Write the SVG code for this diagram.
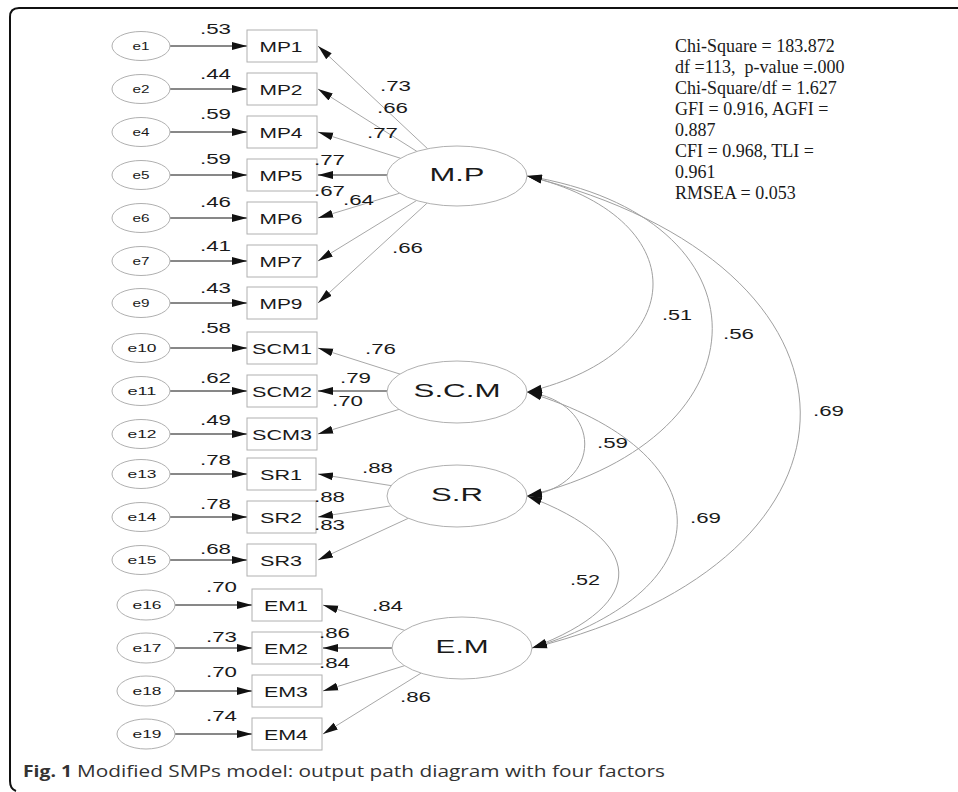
<svg xmlns="http://www.w3.org/2000/svg" width="958" height="792" viewBox="0 0 958 792">
<style>
.bg{fill:#fff}
.frame{fill:none;stroke:#111;stroke-width:2}
.err{fill:#fff;stroke:#b0b0b0;stroke-width:1}
.box{fill:#fff;stroke:#b0b0b0;stroke-width:1}
.lat{fill:#fff;stroke:#b0b0b0;stroke-width:1}
.et{font-family:"Liberation Sans",Arial,sans-serif;font-size:11px;fill:#1a1a1a;text-anchor:middle}
.bt{font-family:"Liberation Sans",Arial,sans-serif;font-size:14px;fill:#1a1a1a;text-anchor:middle}
.lt{font-family:"Liberation Sans",Arial,sans-serif;font-size:19px;fill:#1a1a1a;text-anchor:middle}
.v{font-family:"Liberation Sans",Arial,sans-serif;font-size:14px;fill:#1a1a1a}
.st{font-family:"Liberation Serif","Times New Roman",serif;font-size:18px;fill:#1a1a1a}
.cap{font-family:"Open Sans","Noto Sans",sans-serif;font-size:16px;fill:#333}
.ea{fill:none;stroke:#111;stroke-width:1;marker-end:url(#ah)}
.ld{fill:none;stroke:#a8a8a8;stroke-width:1;marker-end:url(#ah)}
.ldh{fill:none;stroke:#222;stroke-width:1;marker-end:url(#ah)}
.cov{fill:none;stroke:#a0a0a0;stroke-width:1;marker-start:url(#ah);marker-end:url(#ah)}
</style>
<defs>
<marker id="ah" markerUnits="userSpaceOnUse" markerWidth="16" markerHeight="10" viewBox="0 0 16 10" refX="15" refY="5" orient="auto-start-reverse">
<path d="M0,1 L15,5 L0,9 Z" fill="#111"/>
</marker>
</defs>
<rect class="bg" x="0" y="0" width="958" height="792"/>
<path class="frame" d="M958,8 H19 Q10,8 10,17 V781 Q10,789 16,791"/>

<g id="connectors">
<line class="ea" x1="170" y1="46" x2="247" y2="46"/>
<line class="ea" x1="170" y1="89" x2="247" y2="89"/>
<line class="ea" x1="170" y1="132" x2="247" y2="132"/>
<line class="ea" x1="170" y1="175" x2="247" y2="175"/>
<line class="ea" x1="170" y1="218" x2="247" y2="218"/>
<line class="ea" x1="170" y1="261" x2="247" y2="261"/>
<line class="ea" x1="170" y1="303" x2="247" y2="303"/>
<line class="ea" x1="170" y1="348" x2="247" y2="348"/>
<line class="ea" x1="170" y1="391" x2="247" y2="391"/>
<line class="ea" x1="170" y1="434" x2="247" y2="434"/>
<line class="ea" x1="170" y1="474" x2="247" y2="474"/>
<line class="ea" x1="170" y1="517" x2="247" y2="517"/>
<line class="ea" x1="170" y1="560" x2="247" y2="560"/>
<line class="ea" x1="175" y1="605" x2="252" y2="605"/>
<line class="ea" x1="175" y1="648" x2="252" y2="648"/>
<line class="ea" x1="175" y1="691" x2="252" y2="691"/>
<line class="ea" x1="175" y1="734" x2="252" y2="734"/>
<line class="ld" x1="427.7" y1="148.8" x2="318" y2="46"/>
<line class="ld" x1="416.9" y1="151.4" x2="318" y2="89"/>
<line class="ld" x1="400.6" y1="158.3" x2="318" y2="132"/>
<line class="ldh" x1="387" y1="175" x2="318" y2="175"/>
<line class="ld" x1="399.7" y1="193.2" x2="318" y2="218"/>
<line class="ld" x1="416.6" y1="200.5" x2="318" y2="261"/>
<line class="ld" x1="427.1" y1="203.1" x2="318" y2="303"/>
<line class="ld" x1="400.6" y1="374.3" x2="318" y2="348"/>
<line class="ldh" x1="387" y1="391" x2="318" y2="391"/>
<line class="ld" x1="399.7" y1="409.2" x2="318" y2="434"/>
<line class="ld" x1="391" y1="485.6" x2="318" y2="474"/>
<line class="ld" x1="390.7" y1="505.9" x2="318" y2="517"/>
<line class="ld" x1="408.3" y1="518.3" x2="318" y2="560"/>
<line class="ld" x1="404.5" y1="630.3" x2="323" y2="605"/>
<line class="ldh" x1="392" y1="648" x2="323" y2="648"/>
<line class="ld" x1="404.5" y1="665.7" x2="323" y2="691"/>
<line class="ld" x1="421.1" y1="673.1" x2="323" y2="734"/>
<path class="cov" d="M527,176 C695,216 695,352 527,392"/>
<path class="cov" d="M527,176 C774,216 774,436 527,496"/>
<path class="cov" d="M527,176 C888,266 893,558 532,648"/>
<path class="cov" d="M527,392 C604,402 604,486 527,496"/>
<path class="cov" d="M527,392 C724,452 729,588 532,648"/>
<path class="cov" d="M527,496 C646,541 651,603 532,648"/>
</g>

<g id="e1"><ellipse class="err" cx="141" cy="46" rx="29" ry="14.5"/><text class="et" x="141" y="50" textLength="17" lengthAdjust="spacingAndGlyphs">e1</text></g>
<g id="e2"><ellipse class="err" cx="141" cy="89" rx="29" ry="14.5"/><text class="et" x="141" y="93" textLength="17" lengthAdjust="spacingAndGlyphs">e2</text></g>
<g id="e4"><ellipse class="err" cx="141" cy="132" rx="29" ry="14.5"/><text class="et" x="141" y="136" textLength="17" lengthAdjust="spacingAndGlyphs">e4</text></g>
<g id="e5"><ellipse class="err" cx="141" cy="175" rx="29" ry="14.5"/><text class="et" x="141" y="179" textLength="17" lengthAdjust="spacingAndGlyphs">e5</text></g>
<g id="e6"><ellipse class="err" cx="141" cy="218" rx="29" ry="14.5"/><text class="et" x="141" y="222" textLength="17" lengthAdjust="spacingAndGlyphs">e6</text></g>
<g id="e7"><ellipse class="err" cx="141" cy="261" rx="29" ry="14.5"/><text class="et" x="141" y="265" textLength="17" lengthAdjust="spacingAndGlyphs">e7</text></g>
<g id="e9"><ellipse class="err" cx="141" cy="303" rx="29" ry="14.5"/><text class="et" x="141" y="307" textLength="17" lengthAdjust="spacingAndGlyphs">e9</text></g>
<g id="e10"><ellipse class="err" cx="141" cy="348" rx="29" ry="14.5"/><text class="et" x="142" y="352" textLength="29" lengthAdjust="spacingAndGlyphs">e10</text></g>
<g id="e11"><ellipse class="err" cx="141" cy="391" rx="29" ry="14.5"/><text class="et" x="142" y="395" textLength="29" lengthAdjust="spacingAndGlyphs">e11</text></g>
<g id="e12"><ellipse class="err" cx="141" cy="434" rx="29" ry="14.5"/><text class="et" x="142" y="438" textLength="29" lengthAdjust="spacingAndGlyphs">e12</text></g>
<g id="e13"><ellipse class="err" cx="141" cy="474" rx="29" ry="14.5"/><text class="et" x="142" y="478" textLength="29" lengthAdjust="spacingAndGlyphs">e13</text></g>
<g id="e14"><ellipse class="err" cx="141" cy="517" rx="29" ry="14.5"/><text class="et" x="142" y="521" textLength="29" lengthAdjust="spacingAndGlyphs">e14</text></g>
<g id="e15"><ellipse class="err" cx="141" cy="560" rx="29" ry="14.5"/><text class="et" x="142" y="564" textLength="29" lengthAdjust="spacingAndGlyphs">e15</text></g>
<g id="e16"><ellipse class="err" cx="146" cy="605" rx="29" ry="15"/><text class="et" x="147" y="609" textLength="29" lengthAdjust="spacingAndGlyphs">e16</text></g>
<g id="e17"><ellipse class="err" cx="146" cy="648" rx="29" ry="15"/><text class="et" x="147" y="652" textLength="29" lengthAdjust="spacingAndGlyphs">e17</text></g>
<g id="e18"><ellipse class="err" cx="146" cy="691" rx="29" ry="15"/><text class="et" x="147" y="695" textLength="29" lengthAdjust="spacingAndGlyphs">e18</text></g>
<g id="e19"><ellipse class="err" cx="146" cy="734" rx="29" ry="15"/><text class="et" x="147" y="738" textLength="29" lengthAdjust="spacingAndGlyphs">e19</text></g>

<g id="MP1"><rect class="box" x="247" y="30" width="70" height="32"/><text class="bt" x="281" y="52" textLength="43" lengthAdjust="spacingAndGlyphs">MP1</text></g>
<g id="MP2"><rect class="box" x="247" y="73" width="70" height="32"/><text class="bt" x="281" y="95" textLength="43" lengthAdjust="spacingAndGlyphs">MP2</text></g>
<g id="MP4"><rect class="box" x="247" y="116" width="70" height="32"/><text class="bt" x="281" y="138" textLength="43" lengthAdjust="spacingAndGlyphs">MP4</text></g>
<g id="MP5"><rect class="box" x="247" y="159" width="70" height="32"/><text class="bt" x="281" y="181" textLength="43" lengthAdjust="spacingAndGlyphs">MP5</text></g>
<g id="MP6"><rect class="box" x="247" y="202" width="70" height="32"/><text class="bt" x="281" y="224" textLength="43" lengthAdjust="spacingAndGlyphs">MP6</text></g>
<g id="MP7"><rect class="box" x="247" y="245" width="70" height="32"/><text class="bt" x="281" y="267" textLength="43" lengthAdjust="spacingAndGlyphs">MP7</text></g>
<g id="MP9"><rect class="box" x="247" y="287" width="70" height="32"/><text class="bt" x="281" y="309" textLength="43" lengthAdjust="spacingAndGlyphs">MP9</text></g>
<g id="SCM1"><rect class="box" x="247" y="332" width="70" height="32"/><text class="bt" x="282" y="354" textLength="60" lengthAdjust="spacingAndGlyphs">SCM1</text></g>
<g id="SCM2"><rect class="box" x="247" y="375" width="70" height="32"/><text class="bt" x="282" y="397" textLength="60" lengthAdjust="spacingAndGlyphs">SCM2</text></g>
<g id="SCM3"><rect class="box" x="247" y="418" width="70" height="32"/><text class="bt" x="282" y="440" textLength="60" lengthAdjust="spacingAndGlyphs">SCM3</text></g>
<g id="SR1"><rect class="box" x="247" y="458" width="69" height="32"/><text class="bt" x="281" y="480" textLength="42" lengthAdjust="spacingAndGlyphs">SR1</text></g>
<g id="SR2"><rect class="box" x="247" y="501" width="69" height="32"/><text class="bt" x="281" y="523" textLength="42" lengthAdjust="spacingAndGlyphs">SR2</text></g>
<g id="SR3"><rect class="box" x="247" y="544" width="69" height="32"/><text class="bt" x="281" y="566" textLength="42" lengthAdjust="spacingAndGlyphs">SR3</text></g>
<g id="EM1"><rect class="box" x="252" y="589" width="70" height="32"/><text class="bt" x="286" y="611" textLength="44" lengthAdjust="spacingAndGlyphs">EM1</text></g>
<g id="EM2"><rect class="box" x="252" y="632" width="70" height="32"/><text class="bt" x="286" y="654" textLength="44" lengthAdjust="spacingAndGlyphs">EM2</text></g>
<g id="EM3"><rect class="box" x="252" y="675" width="70" height="32"/><text class="bt" x="286" y="697" textLength="44" lengthAdjust="spacingAndGlyphs">EM3</text></g>
<g id="EM4"><rect class="box" x="252" y="718" width="70" height="32"/><text class="bt" x="286" y="740" textLength="44" lengthAdjust="spacingAndGlyphs">EM4</text></g>

<g id="MP"><ellipse class="lat" cx="457" cy="176" rx="70" ry="30"/><text class="lt" x="457" y="181" textLength="55" lengthAdjust="spacingAndGlyphs">M.P</text></g>
<g id="SCM"><ellipse class="lat" cx="457" cy="392" rx="70" ry="31"/><text class="lt" x="457" y="397" textLength="87" lengthAdjust="spacingAndGlyphs">S.C.M</text></g>
<g id="SR"><ellipse class="lat" cx="457" cy="496" rx="70" ry="31"/><text class="lt" x="457" y="501" textLength="52" lengthAdjust="spacingAndGlyphs">S.R</text></g>
<g id="EM"><ellipse class="lat" cx="462" cy="648" rx="70" ry="31"/><text class="lt" x="462" y="653" textLength="53" lengthAdjust="spacingAndGlyphs">E.M</text></g>

<g id="labels">
<text class="v" x="200" y="34" textLength="31" lengthAdjust="spacingAndGlyphs">.53</text>
<text class="v" x="200" y="79" textLength="31" lengthAdjust="spacingAndGlyphs">.44</text>
<text class="v" x="200" y="119" textLength="31" lengthAdjust="spacingAndGlyphs">.59</text>
<text class="v" x="200" y="164" textLength="31" lengthAdjust="spacingAndGlyphs">.59</text>
<text class="v" x="200" y="207" textLength="31" lengthAdjust="spacingAndGlyphs">.46</text>
<text class="v" x="200" y="251" textLength="31" lengthAdjust="spacingAndGlyphs">.41</text>
<text class="v" x="200" y="293" textLength="31" lengthAdjust="spacingAndGlyphs">.43</text>
<text class="v" x="200" y="333" textLength="31" lengthAdjust="spacingAndGlyphs">.58</text>
<text class="v" x="200" y="383" textLength="31" lengthAdjust="spacingAndGlyphs">.62</text>
<text class="v" x="200" y="425" textLength="31" lengthAdjust="spacingAndGlyphs">.49</text>
<text class="v" x="200" y="465" textLength="31" lengthAdjust="spacingAndGlyphs">.78</text>
<text class="v" x="200" y="509" textLength="31" lengthAdjust="spacingAndGlyphs">.78</text>
<text class="v" x="200" y="554" textLength="31" lengthAdjust="spacingAndGlyphs">.68</text>
<text class="v" x="206" y="592" textLength="31" lengthAdjust="spacingAndGlyphs">.70</text>
<text class="v" x="206" y="642" textLength="31" lengthAdjust="spacingAndGlyphs">.73</text>
<text class="v" x="206" y="677" textLength="31" lengthAdjust="spacingAndGlyphs">.70</text>
<text class="v" x="206" y="721" textLength="31" lengthAdjust="spacingAndGlyphs">.74</text>
<text class="v" x="380" y="91" textLength="31" lengthAdjust="spacingAndGlyphs">.73</text>
<text class="v" x="377" y="113" textLength="31" lengthAdjust="spacingAndGlyphs">.66</text>
<text class="v" x="367" y="138" textLength="31" lengthAdjust="spacingAndGlyphs">.77</text>
<text class="v" x="314" y="165" textLength="31" lengthAdjust="spacingAndGlyphs">.77</text>
<text class="v" x="314" y="196" textLength="31" lengthAdjust="spacingAndGlyphs">.67</text>
<text class="v" x="343" y="205" textLength="31" lengthAdjust="spacingAndGlyphs">.64</text>
<text class="v" x="392" y="253" textLength="31" lengthAdjust="spacingAndGlyphs">.66</text>
<text class="v" x="365" y="354" textLength="31" lengthAdjust="spacingAndGlyphs">.76</text>
<text class="v" x="340" y="383" textLength="31" lengthAdjust="spacingAndGlyphs">.79</text>
<text class="v" x="332" y="406" textLength="31" lengthAdjust="spacingAndGlyphs">.70</text>
<text class="v" x="362" y="473" textLength="31" lengthAdjust="spacingAndGlyphs">.88</text>
<text class="v" x="314" y="502" textLength="31" lengthAdjust="spacingAndGlyphs">.88</text>
<text class="v" x="314" y="530" textLength="31" lengthAdjust="spacingAndGlyphs">.83</text>
<text class="v" x="372" y="611" textLength="31" lengthAdjust="spacingAndGlyphs">.84</text>
<text class="v" x="319" y="638" textLength="31" lengthAdjust="spacingAndGlyphs">.86</text>
<text class="v" x="319" y="668" textLength="31" lengthAdjust="spacingAndGlyphs">.84</text>
<text class="v" x="400" y="702" textLength="31" lengthAdjust="spacingAndGlyphs">.86</text>
<text class="v" x="662" y="320" textLength="30" lengthAdjust="spacingAndGlyphs">.51</text>
<text class="v" x="723" y="339" textLength="31" lengthAdjust="spacingAndGlyphs">.56</text>
<text class="v" x="813" y="416" textLength="31" lengthAdjust="spacingAndGlyphs">.69</text>
<text class="v" x="597" y="448" textLength="31" lengthAdjust="spacingAndGlyphs">.59</text>
<text class="v" x="690" y="523" textLength="31" lengthAdjust="spacingAndGlyphs">.69</text>
<text class="v" x="570" y="585" textLength="30" lengthAdjust="spacingAndGlyphs">.52</text>
</g>

<g id="fit">
<text class="st" x="675" y="52">Chi-Square = 183.872</text>
<text class="st" x="675" y="73" xml:space="preserve">df =113,  p-value =.000</text>
<text class="st" x="675" y="94">Chi-Square/df = 1.627</text>
<text class="st" x="675" y="115">GFI = 0.916, AGFI =</text>
<text class="st" x="675" y="136">0.887</text>
<text class="st" x="675" y="157">CFI = 0.968, TLI =</text>
<text class="st" x="675" y="178">0.961</text>
<text class="st" x="675" y="199">RMSEA = 0.053</text>
</g>

<g id="caption">
<text class="cap" x="23" y="777" font-weight="bold" textLength="49" lengthAdjust="spacingAndGlyphs">Fig. 1</text>
<text class="cap" x="77" y="777" textLength="588" lengthAdjust="spacingAndGlyphs">Modified SMPs model: output path diagram with four factors</text>
</g>
</svg>
